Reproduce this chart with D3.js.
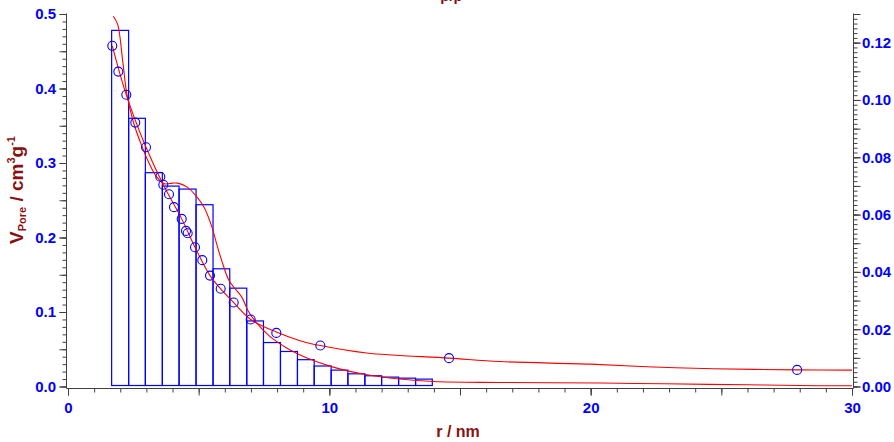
<!DOCTYPE html>
<html lang="en">
<head>
<meta charset="UTF-8">
<title>Pore size distribution</title>
<script src="https://cdn.jsdelivr.net/npm/d3@7"></script>
<style>
    body { margin: 0; background: #fff; }
    svg { display: block; font-family: Arial, "Liberation Sans", sans-serif; }
    .tick text { font-weight: bold; fill: #0000ff; font-size: 15px; }
    .tick line { stroke: #404040; }
    .axisTitle { font-weight: bold; fill: #8b1010; }
</style>
</head>
<body>
<div id="chart"></div>
<script>
    // histogram bins (r / nm) and pore volume per bin (left axis)
    const binEdges = [1.67, 2.32, 2.96, 3.61, 4.25, 4.90, 5.55, 6.19, 6.84, 7.48, 8.13,
        8.78, 9.42, 10.07, 10.71, 11.36, 12.00, 12.65, 13.30, 13.94]
    const binVolume = [0.478, 0.360, 0.287, 0.269, 0.265, 0.244, 0.158, 0.132, 0.088, 0.059,
        0.047, 0.036, 0.0275, 0.022, 0.017, 0.0144, 0.0126, 0.0112, 0.0099]

    // measured points (right axis)
    const pointR = [1.695, 1.925, 2.231, 2.575, 2.985, 3.532, 3.647, 3.865, 4.056, 4.351, 4.515,
        4.580, 4.860, 5.139, 5.434, 5.843, 6.341, 6.991, 7.971, 9.655, 14.58, 27.90]
    const pointVal = [0.1189, 0.1099, 0.1018, 0.0921, 0.0835, 0.0732, 0.0704, 0.0671, 0.0626, 0.0585,
        0.0543, 0.0535, 0.0486, 0.0441, 0.0387, 0.0341, 0.0293, 0.0234, 0.0187, 0.0143, 0.0099, 0.0058]

    // fitted curve through the points (right axis)
    const fitR = [1.695, 2.231, 2.985, 3.647, 4.351, 4.860, 5.434, 5.843, 6.341, 6.991, 7.971,
        8.88, 9.655, 11.43, 14.58, 16.53, 20.0, 22.4, 24.7, 27.9, 30]
    const fitVal = [0.1189, 0.1018, 0.0835, 0.0704, 0.0585, 0.0486, 0.0387, 0.0341, 0.0293, 0.0234, 0.0190,
        0.0160, 0.0143, 0.0117, 0.0099, 0.0087, 0.0078, 0.0068, 0.0062, 0.0058, 0.0057]

    // smoothed distribution over the histogram (left axis)
    const distR = [1.735, 1.9, 2.1, 2.25, 2.5, 2.8, 3.1, 3.4, 3.7, 4.0, 4.2, 4.55, 4.9, 5.2, 5.5,
        5.7, 5.9, 6.15, 6.4, 6.65, 6.9, 7.2, 7.7, 8.5, 9.1, 10.15, 11.4, 12.7, 14.0, 16.5, 20.4,
        22.8, 26.0, 28.7, 30]
    const distVal = [0.497, 0.486, 0.435, 0.393, 0.355, 0.325, 0.300, 0.281, 0.272, 0.273, 0.273,
        0.268, 0.256, 0.241, 0.215, 0.190, 0.167, 0.143, 0.131, 0.120, 0.101, 0.086, 0.068, 0.049,
        0.039, 0.026, 0.016, 0.010, 0.0067, 0.0054, 0.0046, 0.0036, 0.0023, 0.0010, 0.0010]

    const xTicks = [0, 10, 20, 30]
    const leftTicks = [0, 0.1, 0.2, 0.3, 0.4, 0.5]
    const rightTicks = [0, 0.02, 0.04, 0.06, 0.08, 0.10, 0.12]

    const width = 894
    const height = 442
    const svg = d3.select("#chart")
        .append("svg")
        .attr("width", width)
        .attr("height", height)

    const x = d3.scaleLinear().domain([0, 30]).range([68, 852])
    const yL = d3.scaleLinear().domain([0, 0.5]).range([386.5, 14])
    const yR = d3.scaleLinear().domain([0, 0.13]).range([386.5, 14])

    const axisY = 388.5
    const leftX = 66.5
    const rightX = 853.5

    // histogram bars
    svg.append("g")
        .selectAll("rect")
        .data(binVolume)
        .enter()
        .append("rect")
        .attr("x", (d, i) => x(binEdges[i]))
        .attr("width", (d, i) => x(binEdges[i + 1]) - x(binEdges[i]))
        .attr("y", d => yL(d))
        .attr("height", d => yL(0) - yL(d) - 1)
        .attr("fill", "none")
        .attr("stroke", "#0000ff")
        .attr("stroke-width", 1.2)

    // red curves
    const distLine = d3.line()
        .x((d, i) => x(distR[i]))
        .y(d => yL(d))
        .curve(d3.curveCatmullRom.alpha(0.5))
    svg.append("path")
        .attr("d", distLine(distVal))
        .attr("fill", "none")
        .attr("stroke", "#ff0000")
        .attr("stroke-width", 1.1)

    const fitLine = d3.line()
        .x((d, i) => x(fitR[i]))
        .y(d => yR(d))
        .curve(d3.curveCatmullRom.alpha(0.5))
    svg.append("path")
        .attr("d", fitLine(fitVal))
        .attr("fill", "none")
        .attr("stroke", "#ff0000")
        .attr("stroke-width", 1.1)

    // points
    svg.append("g")
        .selectAll("circle")
        .data(pointVal)
        .enter()
        .append("circle")
        .attr("cx", (d, i) => x(pointR[i]))
        .attr("cy", d => yR(d))
        .attr("r", 4.5)
        .attr("fill", "none")
        .attr("stroke", "#0000ff")
        .attr("stroke-width", 1.1)

    // axes: minor ticks, medium ticks, labelled ticks
    function addAxis(axisFn, scale, transform, minor, medium, labels, fmt, pad) {
        const g = svg.append("g").attr("transform", transform)
        g.append("g").call(axisFn(scale).tickValues(minor).tickSize(4).tickFormat("").tickSizeOuter(0))
        g.append("g").call(axisFn(scale).tickValues(medium).tickSize(7).tickFormat("").tickSizeOuter(0))
        g.append("g").call(axisFn(scale).tickValues(labels).tickSize(7).tickPadding(pad).tickFormat(fmt).tickSizeOuter(0))
        g.selectAll(".domain").remove()
        g.selectAll("text").attr("fill", "#0000ff")
    }

    addAxis(d3.axisBottom, x, `translate(0,${axisY})`,
        d3.range(0, 31, 1), d3.range(0, 31, 5), xTicks, d3.format("d"), 7)
    addAxis(d3.axisLeft, yL, `translate(${leftX},0)`,
        d3.range(0, 0.5001, 0.01), d3.range(0, 0.5001, 0.05), leftTicks, d3.format(".1f"), 3.5)
    addAxis(d3.axisRight, yR, `translate(${rightX},0)`,
        d3.range(0, 0.1301, 0.02 / 12), d3.range(0, 0.1301, 0.01), rightTicks, d3.format(".2f"), 1.5)

    // axis lines
    svg.append("line").attr("x1", leftX).attr("x2", rightX).attr("y1", axisY).attr("y2", axisY)
        .attr("stroke", "#404040")
    svg.append("line").attr("x1", leftX).attr("x2", leftX).attr("y1", 13.5).attr("y2", axisY)
        .attr("stroke", "#404040")
    svg.append("line").attr("x1", rightX).attr("x2", rightX).attr("y1", 13.5).attr("y2", axisY)
        .attr("stroke", "#404040")

    // axis titles
    svg.append("text")
        .attr("class", "axisTitle")
        .attr("x", 458)
        .attr("y", 436.5)
        .attr("text-anchor", "middle")
        .attr("font-size", 16)
        .text("r / nm")

    const yTitle = svg.append("text")
        .attr("class", "axisTitle")
        .attr("transform", "translate(23,190) rotate(-90)")
        .attr("text-anchor", "middle")
        .attr("font-size", 19)
    yTitle.append("tspan").text("V")
    yTitle.append("tspan").attr("font-size", 11).attr("dy", 3).text("Pore")
    yTitle.append("tspan").attr("dy", -3).text(" / cm")
    yTitle.append("tspan").attr("font-size", 11).attr("dy", -8).text("3")
    yTitle.append("tspan").attr("dy", 8).text("g")
    yTitle.append("tspan").attr("font-size", 11).attr("dy", -8).text("-1")

    // top title, mostly cut off by the frame
    svg.append("text")
        .attr("class", "axisTitle")
        .attr("x", 451.5)
        .attr("y", 0.5)
        .attr("text-anchor", "middle")
        .attr("font-size", 15)
        .text("p/p")
</script>
</body>
</html>
